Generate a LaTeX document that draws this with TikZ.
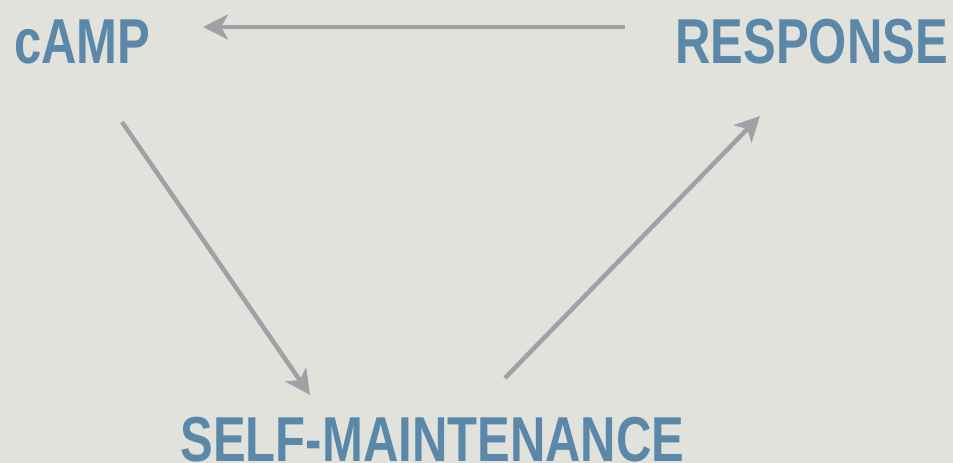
\documentclass[tikz,border=0pt]{standalone}
\usepackage{fontspec}
\newfontfamily\condfont{Liberation Sans}[FakeStretch=0.772]
\usetikzlibrary{arrows.meta}
\definecolor{bgcol}{HTML}{E2E2DD}
\definecolor{txtcol}{HTML}{5B88A8}
\definecolor{arrcol}{HTML}{A1A0A6}
\tikzset{
  lbl/.style={inner sep=0pt, text=txtcol, font=\condfont\bfseries\fontsize{63.5}{63.5}\selectfont},
  conn/.style={draw=arrcol, line width=4.5pt, -{Stealth[length=25pt, width=25pt, inset=7pt]}}
}
\begin{document}
\begin{tikzpicture}[x=1pt,y=-1pt]
\fill[bgcol] (0,0) rectangle (953,463);
\useasboundingbox (0,0) rectangle (953,463);
\node[lbl, anchor=base west] (camp) at (14,63) {cAMP};
\node[lbl, anchor=base east] (resp) at (948,63) {RESPONSE};
\node[lbl, anchor=base] (self) at (432.5,461.5) {SELF-MAINTENANCE};
\coordinate (a1s) at (625,27);
\coordinate (a1e) at (203,27);
\coordinate (a2s) at (122,122);
\coordinate (a2e) at (310,395);
\coordinate (a3s) at (505,378);
\coordinate (a3e) at (760,116);
\draw[conn] (a1s) -- (a1e);
\draw[conn] (a2s) -- (a2e);
\draw[conn] (a3s) -- (a3e);
\end{tikzpicture}
\end{document}
